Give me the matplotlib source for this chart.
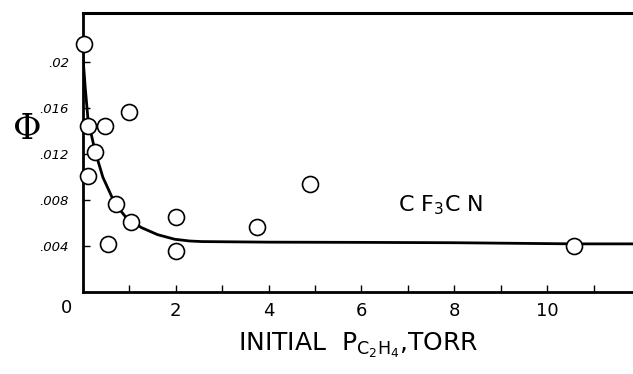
import matplotlib.pyplot as plt
import matplotlib.transforms as mtransforms

# measured points (initial C2H4 pressure in torr, quantum yield)
pressure = [0.02, 0.11, 0.47, 0.99, 0.26, 0.11, 0.71, 1.03, 0.54, 2.0, 2.0, 3.74, 4.9, 10.58]
phi = [0.0216, 0.0145, 0.0145, 0.0157, 0.0122, 0.0101, 0.0077, 0.0061, 0.0042,
       0.0065, 0.0036, 0.0057, 0.0094, 0.0040]

# hand-drawn curve, points
curve_x = [0.0, 0.05, 0.11, 0.26, 0.43, 0.69, 0.97, 1.27, 1.61, 1.98, 2.3, 2.56, 4.0, 6.0, 8.0, 10.6, 11.9]
curve_y = [0.0205, 0.0178, 0.0150, 0.0123, 0.0100, 0.0077, 0.0063, 0.0056, 0.0050,
           0.0046, 0.00445, 0.0044, 0.00435, 0.00433, 0.0043, 0.0042, 0.0042]

xticks = [0, 2, 4, 6, 8, 10]
yticks = [0.004, 0.008, 0.012, 0.016, 0.02]
ytick_labels = ['.004', '.008', '.012', '.016', '.02']

fig = plt.figure(figsize=(6.33, 3.74), dpi=100)
ax = fig.add_axes([0.131, 0.219, 0.869, 0.746])

ax.plot(curve_x, curve_y, color='black', lw=2.0, zorder=2)
ax.plot(pressure, phi, linestyle='none', marker='o', ms=11.5, mfc='white',
        mec='black', mew=1.2, zorder=3, clip_on=False)

ax.set_xlim(0, 11.85)
ax.set_ylim(0, 0.0243)

ax.spines['right'].set_visible(False)
ax.spines['top'].set_linewidth(2.2)
ax.spines['left'].set_linewidth(2.0)
ax.spines['bottom'].set_linewidth(2.0)

ax.set_xticks(range(0, 12), minor=True)
ax.set_xticks(xticks)
ax.set_xticklabels([''] + [str(v) for v in xticks[1:]], fontsize=13)
ax.tick_params(axis='x', which='both', direction='in', length=5, width=1, pad=7)
ax.set_yticks(yticks)
ax.set_yticklabels(ytick_labels, fontsize=9.5, style='italic')
ax.tick_params(axis='y', direction='in', length=5, width=1, pad=10)

# "0" sits left of the corner in the original
off = mtransforms.ScaledTranslation(-0.16, -0.07, fig.dpi_scale_trans)
ax.text(0, 0, '0', fontsize=13, ha='center', va='top',
        transform=ax.get_xaxis_transform() + off)

ax.set_xlabel(r'INITIAL  $\mathregular{P_{C_2H_4}}$,TORR', fontsize=18, labelpad=8)
fig.text(0.043, 0.655, '\u03a6', fontsize=25, family='DejaVu Serif',
         ha='center', va='center')

ax.text(7.7, 0.0076, r'C F$_3$C N', fontsize=16, ha='center', va='center')

fig.savefig('out.png', dpi=100)
